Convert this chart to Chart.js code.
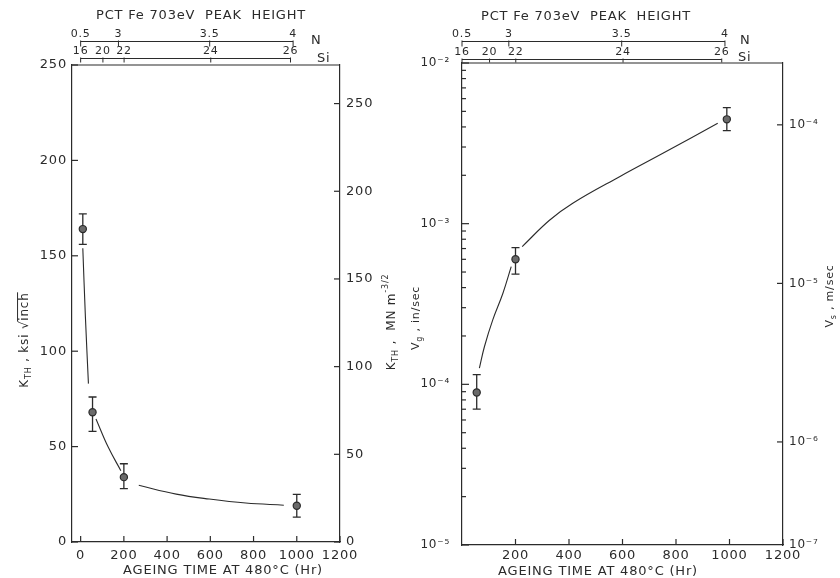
<!DOCTYPE html>
<html>
<head>
<meta charset="utf-8">
<script src="https://cdn.jsdelivr.net/npm/chart.js@4.4.1/dist/chart.umd.min.js"></script>
<style>
  html, body { margin: 0; padding: 0; background: #fff; }
  #wrap { position: relative; width: 840px; height: 578px; overflow: hidden; }
  #c1 { position: absolute; left: 0; top: 0; }
  #c2 { position: absolute; left: 404px; top: 0; }
</style>
</head>
<body>
<div id="wrap">
  <canvas id="c1" width="404" height="578"></canvas>
  <canvas id="c2" width="436" height="578"></canvas>
</div>
<script>
// ---------------- data ----------------
// Left panel: threshold stress intensity K_TH vs ageing time
const ageTimeK   = [10, 55, 200, 1000];            // Hr
const kthKsi     = [164, 68, 34, 19];              // ksi sqrt(inch)
const kthHigh    = [172, 76, 41, 25];
const kthLow     = [156, 58, 28, 13];
const kCurveTime = [10, 22, 36, null, 71, 128, 186, null, 269, 442, 595, 764, 940];
const kCurveKsi  = [154, 118, 83, null, 64.5, 49.6, 37.4, null, 29.7, 25.1, 22.5, 20.4, 19.3];

// Right panel: crack growth velocity V_g vs ageing time
const ageTimeV   = [55, 200, 990];
const vgInSec    = [8.9e-5, 6.0e-4, 4.46e-3];
const vgHigh     = [1.15e-4, 7.1e-4, 5.27e-3];
const vgLow      = [7.0e-5, 4.85e-4, 3.79e-3];
const vCurveTime = [65, 84, 115, 153, 184, null, 225, 327, 414, 589, 763, 956];
const vCurveVg   = [1.26e-4, 1.72e-4, 2.52e-4, 3.69e-4, 5.4e-4, null, 7.2e-4, 1.05e-3, 1.34e-3, 1.96e-3, 2.81e-3, 4.22e-3];

// Tick labels
const timeTicksLeft  = [0, 200, 400, 600, 800, 1000, 1200];
const timeTicksRight = [200, 400, 600, 800, 1000, 1200];
const kthTicks       = [0, 50, 100, 150, 200, 250];
const kthMNTicks     = [0, 50, 100, 150, 200, 250];
const vgDecades      = [-5, -4, -3, -2];
const vsDecades      = [-4, -5, -6];
const vsCornerLabel  = '10\u207B\u2077';

// Upper composition scales (label -> ageing time position)
const nLabels  = ['0.5', '3', '3.5', '4'];
const nAtTime  = [0, 175, 597, 983];
const siLabels = ['16', '20', '22', '24', '26'];
const siAtTime = [0, 103, 201, 602, 971];

const titleText  = 'PCT Fe 703eV  PEAK  HEIGHT';
const xTitleText = 'AGEING TIME AT 480\u00B0C (Hr)';

// ---------------- helpers ----------------
const INK  = '#2b2b2b';
const FONT = "'DejaVu Sans', sans-serif";
const SUP  = {'-': '\u207B', '0': '\u2070', '1': '\u00B9', '2': '\u00B2', '3': '\u00B3', '4': '\u2074',
              '5': '\u2075', '6': '\u2076', '7': '\u2077', '8': '\u2078', '9': '\u2079'};
const sup = s => String(s).split('').map(c => SUP[c] || c).join('');
const isDecade = v => v > 0 && Math.abs(Math.log10(v) - Math.round(Math.log10(v))) < 1e-6;
const plain = v => String(v);

function segments(xs, ys) {
  const out = []; let cur = [];
  xs.forEach((x, i) => {
    if (x === null || ys[i] === null) { if (cur.length) out.push(cur); cur = []; }
    else cur.push({x: x, y: ys[i]});
  });
  if (cur.length) out.push(cur);
  return out;
}

function drawRich(ctx, parts, cx, cy, rot) {
  ctx.save();
  ctx.translate(cx, cy);
  ctx.rotate(rot);
  let w = 0;
  parts.forEach(p => { ctx.font = (p.s || 12) + 'px ' + FONT; p.w = ctx.measureText(p.t).width; w += p.w; });
  let x = -w / 2;
  ctx.textAlign = 'left';
  ctx.textBaseline = 'middle';
  ctx.fillStyle = INK;
  ctx.strokeStyle = INK;
  parts.forEach(p => {
    ctx.font = (p.s || 12) + 'px ' + FONT;
    ctx.fillText(p.t, x, p.dy || 0);
    if (p.over) {
      ctx.lineWidth = 1;
      ctx.beginPath();
      ctx.moveTo(x - 1, -(p.s || 12) * 0.62);
      ctx.lineTo(x + p.w, -(p.s || 12) * 0.62);
      ctx.stroke();
    }
    x += p.w;
  });
  ctx.restore();
}

function decor(cfg) {
  return {
    id: 'decor_' + cfg.name,
    beforeDraw(chart) { chart.ctx.letterSpacing = '0.8px'; },
    beforeDatasetsDraw(chart) {
      const ctx = chart.ctx, xs = chart.scales.x, ys = chart.scales.y;
      ctx.save();
      ctx.strokeStyle = INK;
      ctx.lineWidth = 1.3;
      cfg.err.x.forEach((t, i) => {
        const px = xs.getPixelForValue(t);
        const pHi = ys.getPixelForValue(cfg.err.hi[i]);
        const pLo = ys.getPixelForValue(cfg.err.lo[i]);
        ctx.beginPath();
        ctx.moveTo(px, pHi); ctx.lineTo(px, pLo);
        ctx.moveTo(px - 4, pHi); ctx.lineTo(px + 4, pHi);
        ctx.moveTo(px - 4, pLo); ctx.lineTo(px + 4, pLo);
        ctx.stroke();
      });
      ctx.restore();
    },
    afterDraw(chart) {
      const ctx = chart.ctx, a = chart.chartArea, xs = chart.scales.x;
      ctx.save();
      ctx.strokeStyle = INK;
      ctx.fillStyle = INK;
      ctx.lineWidth = 1.2;
      // top frame line
      ctx.beginPath(); ctx.moveTo(a.left, a.top); ctx.lineTo(a.right, a.top); ctx.stroke();
      // inward tick marks
      cfg.inTicks.forEach(spec => {
        const sc = chart.scales[spec.id];
        sc.ticks.forEach(t => {
          const major = spec.log ? isDecade(t.value) : true;
          const len = major ? spec.len : spec.minor;
          if (!len) return;
          const p = sc.getPixelForValue(t.value);
          ctx.beginPath();
          if (spec.side === 'bottom') { ctx.moveTo(p, a.bottom); ctx.lineTo(p, a.bottom - len); }
          else if (spec.side === 'left') { ctx.moveTo(a.left, p); ctx.lineTo(a.left + len, p); }
          else { ctx.moveTo(a.right, p); ctx.lineTo(a.right - len, p); }
          ctx.stroke();
        });
      });
      // upper composition scales
      cfg.topAxes.forEach(ax => {
        const ps = ax.at.map(v => xs.getPixelForValue(v));
        ctx.lineWidth = 1;
        ctx.beginPath();
        ctx.moveTo(ps[0], ax.y); ctx.lineTo(ps[ps.length - 1], ax.y);
        ps.forEach(p => { ctx.moveTo(p, ax.y - 1); ctx.lineTo(p, ax.y + ax.tick); });
        ctx.stroke();
        ctx.font = '11px ' + FONT;
        ctx.textAlign = 'center';
        ctx.textBaseline = 'bottom';
        ax.labels.forEach((l, i) => ctx.fillText(l, ps[i], ax.y - 2));
        ctx.font = '13px ' + FONT;
        ctx.textAlign = 'left';
        ctx.textBaseline = 'middle';
        ctx.fillText(ax.name, ax.nameX, ax.nameY);
      });
      // main title and x title
      ctx.textAlign = 'center';
      ctx.textBaseline = 'middle';
      ctx.font = '13px ' + FONT;
      ctx.fillText(titleText, cfg.titleX, cfg.titleY);
      ctx.fillText(xTitleText, cfg.xTitleX, cfg.xTitleY);
      ctx.restore();
      // rotated axis titles
      cfg.yTitles.forEach(yt => drawRich(ctx, yt.parts, yt.x, yt.y, -Math.PI / 2));
    }
  };
}

const tickFont = {family: FONT, size: 13};
const borderOpt = {display: true, color: INK, width: 1.2};
const noGrid = {display: false, drawTicks: false, tickLength: 0};

// ---------------- left chart ----------------
new Chart(document.getElementById('c1'), {
  type: 'scatter',
  data: {
    datasets: [
      {
        data: ageTimeK.map((x, i) => ({x: x, y: kthKsi[i]})),
        pointRadius: 3.6, pointBackgroundColor: '#6a6a6a', pointBorderColor: INK, pointBorderWidth: 1.2,
        showLine: false, yAxisID: 'y'
      },
      ...segments(kCurveTime, kCurveKsi).map(seg => ({
        type: 'line', data: seg, borderColor: INK, borderWidth: 1.1, pointRadius: 0,
        tension: 0.4, fill: false, yAxisID: 'y'
      }))
    ]
  },
  options: {
    responsive: false, animation: false, events: [],
    layout: {padding: {top: 65, left: 0, right: 0, bottom: 0}},
    plugins: {legend: {display: false}, tooltip: {enabled: false}},
    scales: {
      x: {
        type: 'linear', position: 'bottom', min: -40, max: 1200,
        afterBuildTicks: s => { s.ticks = timeTicksLeft.map(v => ({value: v})); },
        afterFit: s => { s.height = 36; },
        grid: noGrid, border: borderOpt,
        ticks: {color: INK, font: tickFont, padding: 6, maxRotation: 0, autoSkip: false, callback: plain}
      },
      y: {
        type: 'linear', position: 'left', min: 0, max: 250,
        afterBuildTicks: s => { s.ticks = kthTicks.map(v => ({value: v})); },
        afterFit: s => { s.width = 72; },
        grid: noGrid, border: borderOpt,
        ticks: {color: INK, font: tickFont, padding: 5, autoSkip: false, callback: plain}
      },
      y2: {
        type: 'linear', position: 'right', min: 0, max: 272,
        afterBuildTicks: s => { s.ticks = kthMNTicks.map(v => ({value: v})); },
        afterFit: s => { s.width = 64; },
        grid: noGrid, border: borderOpt,
        ticks: {color: INK, font: tickFont, padding: 6, autoSkip: false, callback: plain}
      }
    }
  },
  plugins: [decor({
    name: 'left',
    err: {x: ageTimeK, hi: kthHigh, lo: kthLow},
    inTicks: [
      {id: 'x', side: 'bottom', len: 6},
      {id: 'y', side: 'left', len: 6},
      {id: 'y2', side: 'right', len: 6}
    ],
    topAxes: [
      {labels: nLabels, at: nAtTime, y: 41.5, tick: 5, name: 'N', nameX: 311, nameY: 41},
      {labels: siLabels, at: siAtTime, y: 58.5, tick: 4, name: 'Si', nameX: 317, nameY: 59}
    ],
    titleX: 201, titleY: 16,
    xTitleX: 223, xTitleY: 571,
    yTitles: [
      {x: 25, y: 340, parts: [{t: 'K'}, {t: 'TH', s: 8, dy: 4}, {t: ' , ksi '}, {t: '\u221A'}, {t: 'inch', over: true}]},
      {x: 392, y: 322, parts: [{t: 'K'}, {t: 'TH', s: 8, dy: 4}, {t: ' ,  MN m'}, {t: '-3/2', s: 8, dy: -6}]}
    ]
  })]
});

// ---------------- right chart ----------------
const vsMin = Math.pow(10, -6.65), vsMax = Math.pow(10, -3.61);
new Chart(document.getElementById('c2'), {
  type: 'scatter',
  data: {
    datasets: [
      {
        data: ageTimeV.map((x, i) => ({x: x, y: vgInSec[i]})),
        pointRadius: 3.6, pointBackgroundColor: '#6a6a6a', pointBorderColor: INK, pointBorderWidth: 1.2,
        showLine: false, yAxisID: 'y'
      },
      ...segments(vCurveTime, vCurveVg).map(seg => ({
        type: 'line', data: seg, borderColor: INK, borderWidth: 1.1, pointRadius: 0,
        tension: 0.4, fill: false, yAxisID: 'y'
      }))
    ]
  },
  options: {
    responsive: false, animation: false, events: [],
    layout: {padding: {top: 63, left: 0, right: 0, bottom: 0}},
    plugins: {legend: {display: false}, tooltip: {enabled: false}},
    scales: {
      x: {
        type: 'linear', position: 'bottom', min: 0, max: 1200,
        afterBuildTicks: s => { s.ticks = timeTicksRight.map(v => ({value: v})); },
        afterFit: s => { s.height = 33; },
        grid: noGrid, border: borderOpt,
        ticks: {color: INK, font: tickFont, padding: 3, maxRotation: 0, autoSkip: false, callback: plain}
      },
      y: {
        type: 'logarithmic', position: 'left', min: 1e-5, max: 1e-2,
        afterBuildTicks: s => {
          const t = [];
          vgDecades.forEach(e => {
            if (e === vgDecades[vgDecades.length - 1]) { t.push({value: Math.pow(10, e)}); return; }
            for (let m = 1; m <= 9; m++) t.push({value: m * Math.pow(10, e)});
          });
          s.ticks = t;
        },
        afterFit: s => { s.width = 58; },
        grid: noGrid, border: borderOpt,
        ticks: {
          color: INK, font: {family: FONT, size: 12}, padding: 12, autoSkip: false,
          callback: v => isDecade(v) ? '10' + sup(Math.round(Math.log10(v))) : ''
        }
      },
      y2: {
        type: 'logarithmic', position: 'right', min: vsMin, max: vsMax,
        afterBuildTicks: s => { s.ticks = vsDecades.map(e => ({value: Math.pow(10, e)})).concat([{value: vsMin}]); },
        afterFit: s => { s.width = 57; },
        grid: noGrid, border: borderOpt,
        ticks: {
          color: INK, font: {family: FONT, size: 12}, padding: 6, autoSkip: false,
          callback: v => isDecade(v) ? '10' + sup(Math.round(Math.log10(v))) : vsCornerLabel
        }
      }
    }
  },
  plugins: [decor({
    name: 'right',
    err: {x: ageTimeV, hi: vgHigh, lo: vgLow},
    inTicks: [
      {id: 'x', side: 'bottom', len: 6},
      {id: 'y', side: 'left', len: 7, minor: 4, log: true},
      {id: 'y2', side: 'right', len: 6, log: true}
    ],
    topAxes: [
      {labels: nLabels, at: nAtTime, y: 41.5, tick: 5, name: 'N', nameX: 336, nameY: 41},
      {labels: siLabels, at: siAtTime, y: 59.5, tick: 3, name: 'Si', nameX: 334, nameY: 58}
    ],
    titleX: 182, titleY: 17,
    xTitleX: 194, xTitleY: 572,
    yTitles: [
      {x: 12, y: 318, parts: [{t: 'V', s: 11}, {t: 'g', s: 8, dy: 4}, {t: ' , in/sec', s: 11}]},
      {x: 426, y: 296, parts: [{t: 'V', s: 11}, {t: 's', s: 8, dy: 4}, {t: ' , m/sec', s: 11}]}
    ]
  })]
});
</script>
</body>
</html>
